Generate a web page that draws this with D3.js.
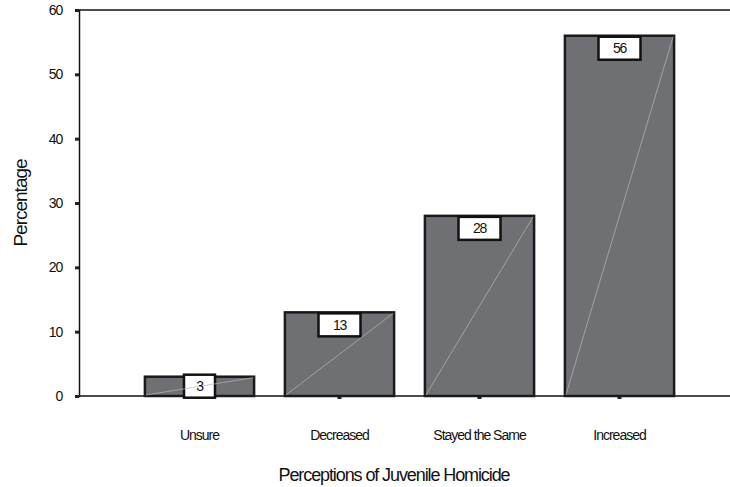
<!DOCTYPE html>
<html>
<head>
<meta charset="utf-8">
<script src="https://cdn.jsdelivr.net/npm/d3@7/dist/d3.min.js"></script>
<style>
  html, body { margin: 0; padding: 0; background: #fff; }
  svg { display: block; }
  text { font-family: "Liberation Sans", Arial, sans-serif; fill: #111; }
</style>
</head>
<body>
<svg id="chart" width="730" height="487"></svg>
<script>
// Survey responses: perceived trend in juvenile homicide
const categories = ["Unsure", "Decreased", "Stayed the Same", "Increased"];
const percentages = [3, 13, 28, 56];
const yTicks = [0, 10, 20, 30, 40, 50, 60];

const svg = d3.select("#chart");
const axisX = 79, plotTop = 10, plotBottom = 396, plotRight = 730;

const x = d3.scaleBand()
  .domain(categories)
  .range([129.5, 689.5])
  .paddingInner(0.22)
  .paddingOuter(0.11);

const y = d3.scaleLinear().domain([0, 60]).range([plotBottom, plotTop]);

// frame: top line
svg.append("line").attr("x1", axisX).attr("x2", plotRight)
  .attr("y1", y(60)).attr("y2", y(60)).attr("stroke", "#111").attr("stroke-width", 1.5);

// y axis
const yAxis = svg.append("g").attr("transform", `translate(${axisX},0)`)
  .call(d3.axisLeft(y).tickValues(yTicks).tickSize(4).tickPadding(13));
yAxis.select(".domain").attr("stroke", "#111").attr("stroke-width", 1.5);
yAxis.selectAll(".tick line").attr("stroke", "#222").attr("stroke-width", 3);
yAxis.selectAll(".tick text")
  .style("font-size", "14px").style("letter-spacing", "-1.2px")
  .attr("fill", "#111");

// x axis
const xAxis = svg.append("g").attr("transform", `translate(0,${plotBottom})`)
  .call(d3.axisBottom(x).tickSize(3).tickPadding(31));
xAxis.select(".domain").remove();
xAxis.selectAll(".tick line").attr("stroke", "#222").attr("stroke-width", 4);
xAxis.selectAll(".tick text")
  .style("font-size", "14px").style("letter-spacing", "-1px")
  .attr("fill", "#111");
svg.append("line").attr("x1", axisX).attr("x2", plotRight)
  .attr("y1", plotBottom).attr("y2", plotBottom).attr("stroke", "#111").attr("stroke-width", 1.5);

// bars
const bars = svg.append("g").selectAll("g").data(categories).join("g");
bars.append("rect")
  .attr("x", d => x(d))
  .attr("y", (d, i) => y(percentages[i]))
  .attr("width", x.bandwidth())
  .attr("height", (d, i) => y(0) - y(percentages[i]))
  .attr("fill", "#6f7074")
  .attr("stroke", "#1a1a1a")
  .attr("stroke-width", 2.5);

// value label boxes
const boxW = [31, 42, 42, 42], boxH = 23;
bars.append("rect")
  .attr("x", (d, i) => x(d) + x.bandwidth() / 2 - boxW[i] / 2)
  .attr("y", (d, i) => y(percentages[i]) - (i === 0 ? 2 : -1))
  .attr("width", (d, i) => boxW[i])
  .attr("height", boxH)
  .attr("fill", "#fff")
  .attr("stroke", "#111")
  .attr("stroke-width", 2.5);

// faint diagonal across each bar
bars.append("line")
  .attr("x1", d => x(d) + 1)
  .attr("y1", y(0) - 1)
  .attr("x2", d => x(d) + x.bandwidth() - 1)
  .attr("y2", (d, i) => y(percentages[i]) + 1)
  .attr("stroke", "#b8b8bc")
  .attr("stroke-width", 0.7);

bars.append("text")
  .attr("x", d => x(d) + x.bandwidth() / 2)
  .attr("y", (d, i) => y(percentages[i]) - (i === 0 ? 2 : -1) + boxH / 2 + 5)
  .attr("text-anchor", "middle")
  .style("font-size", "14px").style("letter-spacing", "-1.2px")
  .text((d, i) => percentages[i]);

// axis titles
svg.append("text")
  .attr("transform", `translate(27,${(plotTop + plotBottom) / 2}) rotate(-90)`)
  .attr("text-anchor", "middle")
  .style("font-size", "19px").style("letter-spacing", "-1px")
  .text("Percentage");

svg.append("text")
  .attr("x", 394).attr("y", 481)
  .attr("text-anchor", "middle")
  .style("font-size", "18px").style("letter-spacing", "-1.1px")
  .text("Perceptions of Juvenile Homicide");
</script>
</body>
</html>
